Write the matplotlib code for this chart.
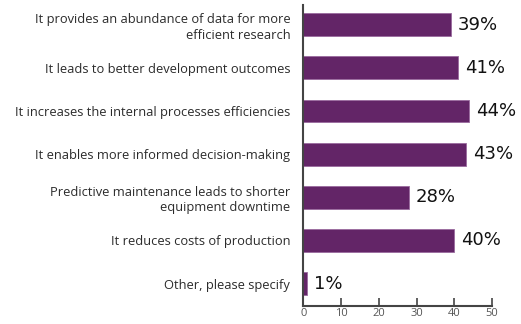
import matplotlib
matplotlib.use("Agg")
import matplotlib.pyplot as plt

categories = [
    "It provides an abundance of data for more\nefficient research",
    "It leads to better development outcomes",
    "It increases the internal processes efficiencies",
    "It enables more informed decision-making",
    "Predictive maintenance leads to shorter\nequipment downtime",
    "It reduces costs of production",
    "Other, please specify",
]
shares = [39, 41, 44, 43, 28, 40, 1]
x_ticks = [0, 10, 20, 30, 40, 50]

bar_color = "#632567"
edge_color = "#9a6a9e"
spine_color = "#444444"
text_color = "#2b2b2b"

plt.rcParams["font.family"] = ["Open Sans", "DejaVu Sans"]

fig = plt.figure(figsize=(5.21, 3.24), dpi=100)
ax = fig.add_axes([0.5825, 0.057, 0.362, 0.929])

pos = list(range(len(categories)))
ax.barh(pos, shares, height=0.53, color=bar_color, edgecolor=edge_color, linewidth=0.6)

# percentage labels just past the bar ends
for p, v in zip(pos, shares):
    ax.annotate(f"{v}%", (v, p), xytext=(5, 0), textcoords="offset points",
                va="center", ha="left", fontsize=13, color="#111111",
                family="DejaVu Sans", annotation_clip=False)

ax.set_yticks(pos)
ax.set_yticklabels(categories, fontsize=9.3, color=text_color, ha="right",
                   linespacing=1.25)
ax.tick_params(axis="y", length=0, pad=9.5)

ax.set_xlim(0, 50)
ax.set_ylim(6.51, -0.47)
ax.set_xticks(x_ticks)
ax.set_xticklabels([str(t) for t in x_ticks], fontsize=8, color="#555555")
ax.tick_params(axis="x", direction="in", length=5.5, width=1.2, color=spine_color, pad=1.5)

for side in ["top", "right"]:
    ax.spines[side].set_visible(False)
for side in ["left", "bottom"]:
    ax.spines[side].set_color(spine_color)
    ax.spines[side].set_linewidth(1.5)

fig.savefig("out.png", dpi=100)
